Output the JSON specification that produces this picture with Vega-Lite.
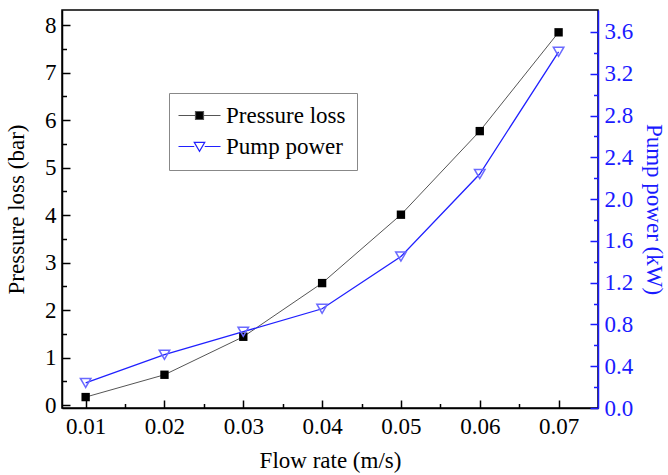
{
  "$schema": "https://vega.github.io/schema/vega-lite/v6.json",
  "width": 536,
  "height": 398,
  "autosize": {"type": "none"},
  "padding": {"left": 62, "top": 10, "right": 70, "bottom": 67},
  "config": {
    "font": "Times New Roman, Liberation Serif, serif",
    "view": {"stroke": "black", "strokeWidth": 1.5},
    "axis": {
      "grid": false,
      "domainColor": "black",
      "domainWidth": 1.5,
      "tickColor": "black",
      "tickWidth": 1.5,
      "labelFont": "Times New Roman, Liberation Serif, serif",
      "labelFontSize": 23,
      "labelColor": "black",
      "titleFont": "Times New Roman, Liberation Serif, serif",
      "titleFontSize": 23,
      "titleFontWeight": "normal",
      "titleColor": "black"
    }
  },
  "data": {
    "values": [
      {"flow": 0.01, "series": "Pressure loss", "value": 0.17},
      {"flow": 0.02, "series": "Pressure loss", "value": 0.64},
      {"flow": 0.03, "series": "Pressure loss", "value": 1.44},
      {"flow": 0.04, "series": "Pressure loss", "value": 2.57},
      {"flow": 0.05, "series": "Pressure loss", "value": 4.01},
      {"flow": 0.06, "series": "Pressure loss", "value": 5.77},
      {"flow": 0.07, "series": "Pressure loss", "value": 7.85},
      {"flow": 0.01, "series": "Pump power", "value": 0.24},
      {"flow": 0.02, "series": "Pump power", "value": 0.51},
      {"flow": 0.03, "series": "Pump power", "value": 0.73},
      {"flow": 0.04, "series": "Pump power", "value": 0.95},
      {"flow": 0.05, "series": "Pump power", "value": 1.45},
      {"flow": 0.06, "series": "Pump power", "value": 2.24},
      {"flow": 0.07, "series": "Pump power", "value": 3.41}
    ]
  },
  "encoding": {
    "x": {
      "field": "flow",
      "type": "quantitative",
      "scale": {"domain": [0.007, 0.075], "nice": false, "zero": false},
      "axis": {
        "title": "Flow rate (m/s)",
        "values": [0.01, 0.015, 0.02, 0.025, 0.03, 0.035, 0.04, 0.045, 0.05, 0.055, 0.06, 0.065, 0.07],
        "labelExpr": "abs(datum.value*100 - round(datum.value*100)) < 0.001 ? format(datum.value, '.2f') : ''",
        "tickSize": {"condition": {"test": "abs(datum.value*100 - round(datum.value*100)) > 0.001", "value": -4.5}, "value": -8},
        "labelPadding": 15,
        "titlePadding": 11
      }
    }
  },
  "layer": [
    {
      "transform": [{"filter": "datum.series === 'Pressure loss'"}],
      "encoding": {
        "y": {
          "field": "value",
          "type": "quantitative",
          "scale": {"domain": [-0.06, 8.32], "nice": false, "zero": false},
          "axis": {
            "orient": "left",
            "title": "Pressure loss (bar)",
            "values": [0, 0.5, 1, 1.5, 2, 2.5, 3, 3.5, 4, 4.5, 5, 5.5, 6, 6.5, 7, 7.5, 8],
            "labelExpr": "datum.value % 1 === 0 ? format(datum.value, 'd') : ''",
            "tickSize": {"condition": {"test": "datum.value % 1 !== 0", "value": -4.5}, "value": -8},
            "labelPadding": 14,
            "titlePadding": 16
          }
        },
        "color": {
          "field": "series",
          "type": "nominal",
          "scale": {"domain": ["Pressure loss", "Pump power"], "range": ["#555555", "#2020ff"]},
          "legend": {
            "orient": "none",
            "legendX": 107,
            "legendY": 83,
            "title": null,
            "labelFont": "Times New Roman, Liberation Serif, serif",
            "labelFontSize": 23,
            "labelColor": "black",
            "strokeColor": "#888888",
            "padding": 11,
            "symbolSize": 441,
            "symbolOffset": 8,
            "labelOffset": 15,
            "rowPadding": 7,
            "symbolStrokeWidth": 1.2,
            "encode": {
              "symbols": {
                "update": {
                  "shape": {"signal": "datum.value === 'Pressure loss' ? 'M-2,0H-0.42M0.42,0H2M-0.38,-0.38H0.38V0.38H-0.38Z' : 'M-2,0H-0.5M0.5,0H2M-0.5,-0.4L0.5,-0.4L0,0.45Z'"},
                  "fill": {"signal": "datum.value === 'Pressure loss' ? 'black' : 'transparent'"},
                  "stroke": {"signal": "datum.value === 'Pressure loss' ? '#444444' : '#3030ff'"},
                  "opacity": {"value": 1}
                }
              }
            }
          }
        }
      },
      "layer": [
        {"mark": {"type": "line", "strokeWidth": 1}},
        {
          "mark": {"type": "point", "shape": "square", "filled": true, "size": 70, "opacity": 1},
          "encoding": {"color": {"value": "black"}}
        }
      ]
    },
    {
      "transform": [{"filter": "datum.series === 'Pump power'"}],
      "encoding": {
        "y": {
          "field": "value",
          "type": "quantitative",
          "scale": {"domain": [0, 3.81], "nice": false, "zero": false},
          "axis": {
            "orient": "right",
            "title": "Pump power (kW)",
            "values": [0, 0.2, 0.4, 0.6, 0.8, 1, 1.2, 1.4, 1.6, 1.8, 2, 2.2, 2.4, 2.6, 2.8, 3, 3.2, 3.4, 3.6],
            "labelExpr": "round(datum.value*5) % 2 === 0 ? format(datum.value, '.1f') : ''",
            "tickSize": {"condition": {"test": "round(datum.value*5) % 2 === 1", "value": -4.5}, "value": -8},
            "domainColor": "#1a1aff",
            "tickColor": "#1a1aff",
            "labelColor": "#1a1aff",
            "titleColor": "#1a1aff",
            "labelPadding": 14,
            "titlePadding": 9
          }
        },
        "color": {"field": "series", "type": "nominal"}
      },
      "layer": [
        {"mark": {"type": "line", "strokeWidth": 1.3}},
        {
          "mark": {"type": "point", "shape": "triangle-down", "filled": false, "size": 110, "strokeWidth": 1.5, "opacity": 1},
          "encoding": {"color": {"value": "#6a6aff"}}
        }
      ]
    }
  ],
  "resolve": {"scale": {"y": "independent"}}
}
